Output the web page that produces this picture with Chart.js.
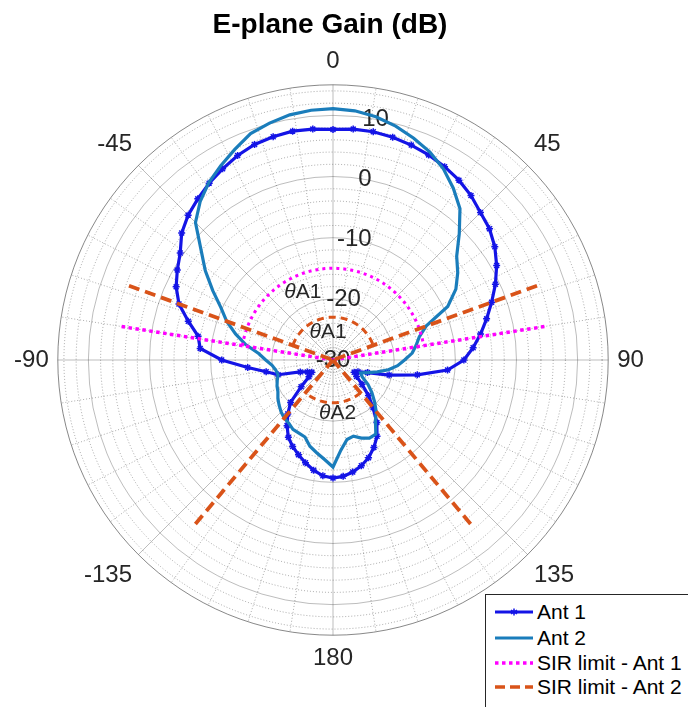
<!DOCTYPE html>
<html>
<head>
<meta charset="utf-8">
<script src="https://cdn.jsdelivr.net/npm/chart.js@4.4.1/dist/chart.umd.min.js"></script>
<style>
html,body{margin:0;padding:0;background:#fff;}
#wrap{position:relative;width:688px;height:707px;overflow:hidden;background:#fff;}
#legend{position:absolute;left:485px;top:594px;width:215px;height:125px;border:1px solid #262626;background:#fff;
  font-family:"Liberation Sans",Arial,sans-serif;font-size:21px;color:#000;}
.row{position:absolute;left:9px;height:24px;display:flex;align-items:center;white-space:nowrap;}
.row svg{margin-right:4px;display:block;}
</style>
</head>
<body>
<div id="wrap">
<canvas id="c" width="688" height="707"></canvas>
<div id="legend">
  <div class="row" style="top:5px"><svg width="38" height="24"><line x1="0" y1="12" x2="38" y2="12" stroke="#1414e6" stroke-width="3"/><path d="M19 8.5 V15.5 M16 10 L22 14 M16 14 L22 10" stroke="#1414e6" stroke-width="1.5"/></svg><span>Ant 1</span></div>
  <div class="row" style="top:31px"><svg width="38" height="24"><line x1="0" y1="12" x2="38" y2="12" stroke="#1a7dbb" stroke-width="3"/></svg><span>Ant 2</span></div>
  <div class="row" style="top:56px"><svg width="38" height="24"><line x1="0" y1="12" x2="38" y2="12" stroke="#ff00ff" stroke-width="3.5" stroke-dasharray="3.5 3.5"/></svg><span>SIR limit - Ant 1</span></div>
  <div class="row" style="top:80px"><svg width="38" height="24"><line x1="0" y1="12" x2="38" y2="12" stroke="#d95319" stroke-width="3.5" stroke-dasharray="10 5"/></svg><span>SIR limit - Ant 2</span></div>
</div>
</div>
<script>
// ---------------- data ----------------
// angle in degrees (0 = top, clockwise), gain in dB
const sampleAngles = [0,5,10,15,20,25,30,35,40,45,50,55,60,65,70,75,80,85,90,95,100,105,110,115,120,125,130,135,140,145,150,155,160,165,170,175,
  180,185,190,195,200,205,210,215,220,225,230,235,240,245,250,255,260,265,270,275,280,285,290,295,300,305,310,315,320,325,330,335,340,345,350,355];
const ant1Gain = [7.7,7.9,7.9,7.7,7.4,7.0,6.5,5.9,5.1,4.1,3.4,2.3,0.9,-0.7,-2.4,-4.0,-5.5,-7.0,-8.6,-11.2,-16.0,-20.5,-24.0,-25.5,-26.0,-25.3,-23.8,-21.8,-19.8,-17.5,-15.6,-14.2,-13.0,-12.1,-11.4,-10.9,
  -10.7,-11.0,-11.7,-12.6,-13.5,-14.4,-15.4,-16.9,-18.5,-20.2,-23.2,-25.2,-26.0,-25.4,-24.3,-20.7,-18.9,-16.0,-11.8,-8.2,-7.6,-5.5,-3.2,-1.7,-0.6,0.5,2.3,3.5,4.4,5.3,6.1,6.9,7.5,7.8,8.0,7.9];
const ant2Gain = [11.1,10.9,10.4,9.6,8.6,7.5,6.1,4.3,2.3,-0.8,-3.6,-5.1,-6.8,-9.3,-13.8,-15.4,-16.2,-17.0,-18.3,-19.4,-20.8,-22.5,-24.0,-25.0,-24.5,-23.0,-21.7,-20.4,-19.0,-17.9,-16.0,-15.9,-16.4,-17.1,-16.8,-15.2,
  -12.5,-13.7,-14.6,-15.4,-16.6,-16.8,-16.9,-17.4,-17.6,-18.0,-18.5,-19.0,-19.6,-19.9,-20.3,-20.7,-20.5,-20.0,-19.0,-17.8,-15.5,-13.5,-11.5,-9.8,-7.3,-4.5,-1.8,1.8,3.8,5.4,6.7,8.0,9.4,10.1,10.7,11.0];

// SIR limit rays (angle, outer gain) and arcs (from, to, gain)
const sir1RayAngles = [-81, 81];
const sir1RayGain = [5, 5];
const sir1ArcFrom = [-81];
const sir1ArcTo = [81];
const sir1ArcGain = [-15];
const sir2RayAngles = [-70, 70, -140, 140];
const sir2RayGain = [5.5, 5.5, 5, 5];
const sir2ArcFrom = [-70, 140];
const sir2ArcTo = [70, 220];
const sir2ArcGain = [-23, -23];

// angle annotations: text, angle, gain
const noteText = ['A1', 'A1', 'A2'];
const noteAngle = [-24, -10, 175];
const noteGain = [-17.9, -25.4, -21.3];

// axes
const rMin = -30, rMax = 15;
const rTickLabels = [-30, -20, -10, 0, 10];
const rGridValues = [-30,-28,-26,-24,-22,-20,-18,-16,-14,-12,-10,-8,-6,-4,-2,0,2,4,6,8,10,12,14,15];
const thetaTickLabels = ['0','45','90','135','180','-135','-90','-45'];
const thetaTickStep = 45;
const thetaMinorStep = 9;
const rLabelAngle = 10;

// ---------------- build radar data (1 degree per category) ----------------
const N = 360;
const idx = a => ((Math.round(a) % N) + N) % N;
const categories = Array.from({length: N}, (_, i) => i);
function onCircle(angles, gains) {
  const d = new Array(N).fill(null);
  angles.forEach((a, k) => { d[idx(a)] = gains[k]; });
  return d;
}
function rays(angles, gains) {
  const d = new Array(N).fill(null);
  angles.forEach((a, k) => { d[idx(a)] = gains[k]; d[idx(a + 1)] = rMin; });
  return d;
}
function arcs(froms, tos, gains) {
  const d = new Array(N).fill(null);
  froms.forEach((f, k) => { for (let a = f; a <= tos[k]; a++) d[idx(a)] = gains[k]; });
  return d;
}

const FONT = '"Liberation Sans", Arial, sans-serif';
const majorGrid = 'rgba(38,38,38,0.30)';
const minorGrid = 'rgba(38,38,38,0.38)';
const outerGrid = 'rgba(38,38,38,0.55)';

const labelsPlugin = {
  id: 'rTickText',
  beforeDatasetsDraw(chart) {
    const s = chart.scales.r, ctx = chart.ctx;
    ctx.save();
    ctx.font = '24px ' + FONT;
    ctx.fillStyle = '#262626';
    ctx.textAlign = 'center';
    ctx.textBaseline = 'middle';
    rTickLabels.forEach(v => {
      const p = s.getPointPositionForValue(rLabelAngle, v);
      ctx.fillText(String(v), p.x, p.y);
    });
    ctx.restore();
  },
  afterDatasetsDraw(chart) {
    const s = chart.scales.r, ctx = chart.ctx;
    ctx.save();
    ctx.fillStyle = '#262626';
    ctx.textBaseline = 'middle';
    ctx.textAlign = 'left';
    noteText.forEach((t, k) => {
      const p = s.getPointPositionForValue(idx(noteAngle[k]), noteGain[k]);
      ctx.font = 'italic 21px ' + FONT;
      const w1 = ctx.measureText('\u03B8').width;
      ctx.font = '21px ' + FONT;
      const w2 = ctx.measureText(t).width;
      const x0 = p.x - (w1 + w2) / 2;
      ctx.font = 'italic 21px ' + FONT;
      ctx.fillText('\u03B8', x0, p.y);
      ctx.font = '21px ' + FONT;
      ctx.fillText(t, x0 + w1, p.y);
    });
    ctx.restore();
  }
};

new Chart(document.getElementById('c'), {
  type: 'radar',
  data: {
    labels: categories,
    datasets: [
      { label: 'Ant 1', data: onCircle(sampleAngles, ant1Gain), borderColor: '#1414e6', borderWidth: 3.2,
        pointStyle: 'star', pointRadius: 3.5, pointBorderWidth: 1.5, pointBorderColor: '#1414e6', pointBackgroundColor: '#1414e6',
        spanGaps: true, fill: false, order: 4 },
      { label: 'Ant 2', data: onCircle(sampleAngles, ant2Gain), borderColor: '#1a7dbb', borderWidth: 3.2,
        pointRadius: 0, spanGaps: true, fill: false, order: 3 },
      { label: 'SIR limit - Ant 1', data: rays(sir1RayAngles, sir1RayGain), borderColor: '#ff00ff', borderWidth: 3.5,
        borderDash: [3.5, 3.5], pointRadius: 0, spanGaps: false, fill: false, order: 2 },
      { label: 'SIR arc 1', data: arcs(sir1ArcFrom, sir1ArcTo, sir1ArcGain), borderColor: '#ff00ff', borderWidth: 3,
        borderDash: [3, 4], pointRadius: 0, spanGaps: false, fill: false, order: 2 },
      { label: 'SIR limit - Ant 2', data: rays(sir2RayAngles, sir2RayGain), borderColor: '#d95319', borderWidth: 3.8,
        borderDash: [11, 6], pointRadius: 0, spanGaps: false, fill: false, order: 1 },
      { label: 'SIR arc 2', data: arcs(sir2ArcFrom, sir2ArcTo, sir2ArcGain), borderColor: '#d95319', borderWidth: 3,
        borderDash: [7, 5], pointRadius: 0, spanGaps: false, fill: false, order: 1 }
    ]
  },
  options: {
    responsive: false,
    devicePixelRatio: 1,
    animation: false,
    events: [],
    layout: { padding: { left: 0, right: 28, top: 0, bottom: 34 } },
    elements: { line: { tension: 0 } },
    plugins: {
      legend: { display: false },
      tooltip: { enabled: false },
      title: { display: true, text: 'E-plane Gain (dB)', color: '#000',
        font: { family: FONT, size: 28, weight: 'bold', lineHeight: 1 }, padding: { top: 11, bottom: 8 } }
    },
    scales: {
      r: {
        min: rMin, max: rMax,
        startAngle: 0,
        afterBuildTicks: s => { s.ticks = rGridValues.map(v => ({ value: v })); },
        ticks: { display: false },
        grid: {
          circular: true,
          lineWidth: 1,
          color: c => (c.tick && c.tick.value === rMax) ? outerGrid : (rTickLabels.includes(c.tick && c.tick.value) ? majorGrid : minorGrid),
          borderDash: c => (c.tick && (c.tick.value === rMax || rTickLabels.includes(c.tick.value))) ? [] : [1, 2]
        },
        border: {
          dash: c => (c.tick && (c.tick.value === rMax || rTickLabels.includes(c.tick.value))) ? [] : [1, 2]
        },
        angleLines: {
          display: true,
          color: c => (c.index % thetaTickStep === 0) ? majorGrid : (c.index % thetaMinorStep === 0 ? minorGrid : 'rgba(0,0,0,0)'),
          lineWidth: c => (c.index % thetaMinorStep === 0 || c.index % thetaTickStep === 0) ? 1 : 0,
          borderDash: c => (c.index % thetaTickStep === 0) ? [] : [1, 2]
        },
        pointLabels: {
          display: true,
          padding: 9,
          color: '#262626',
          font: { family: FONT, size: 24 },
          callback: (v, i) => (i % thetaTickStep === 0) ? thetaTickLabels[i / thetaTickStep] : ''
        }
      }
    }
  },
  plugins: [labelsPlugin]
});
</script>
</body>
</html>
